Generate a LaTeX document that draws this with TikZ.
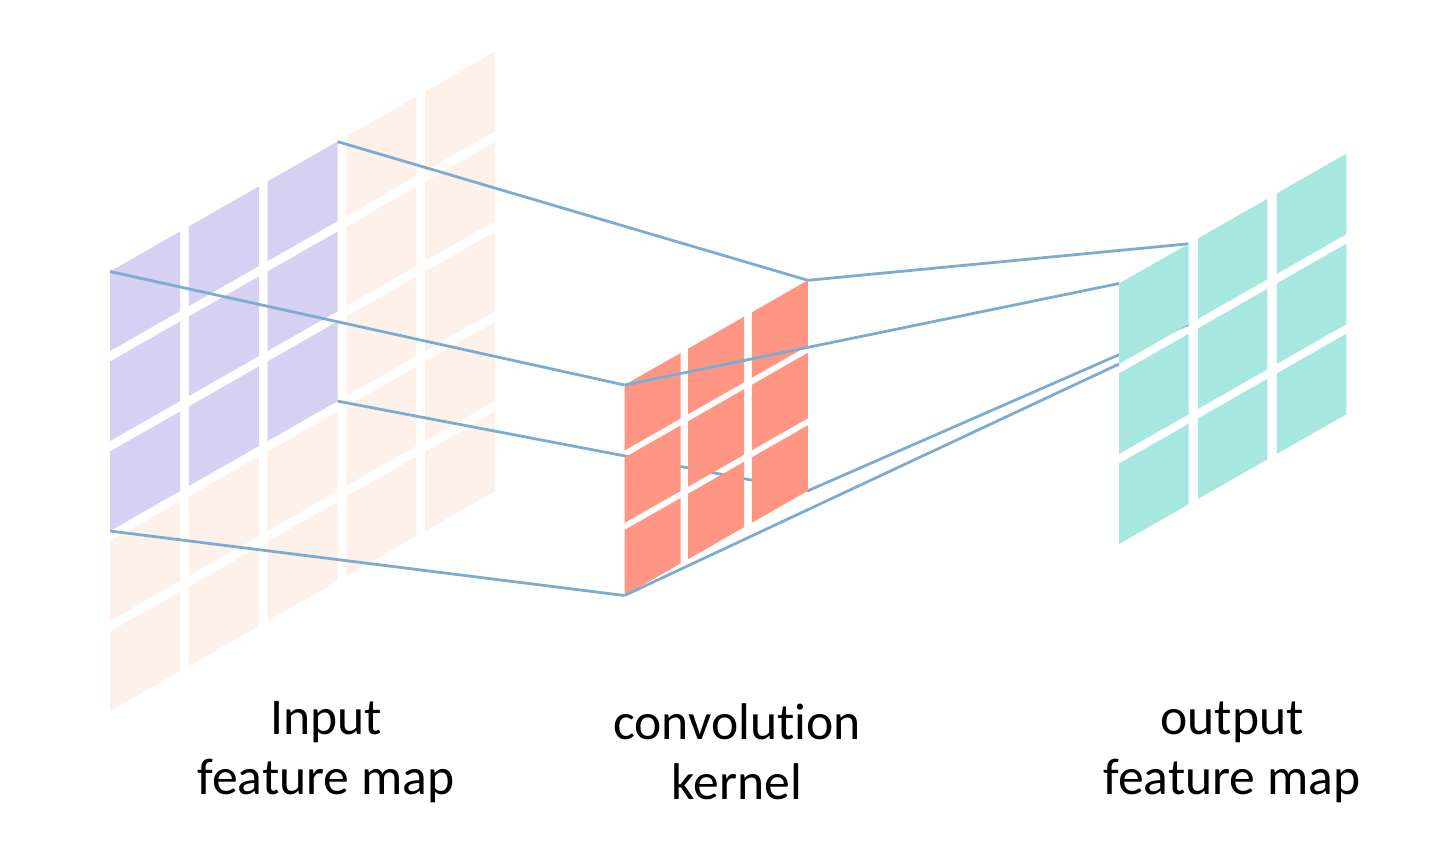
\documentclass[tikz,border=0pt]{standalone}
\usepackage{fontspec}
\setmainfont{Carlito}
\definecolor{tanc}{RGB}{254,241,233}
\definecolor{purplec}{RGB}{214,208,243}
\definecolor{salmonc}{RGB}{254,150,131}
\definecolor{tealc}{RGB}{166,231,224}
\definecolor{linec}{RGB}{125,172,210}
\newcommand\cellgrid[9]{%
  \foreach \i in {0,...,#8}{\foreach \j in {0,...,#9}{%
    \fill[#1] ({#2+\i*#5},{#3-0.571*\i*#5+\j*#7}) -- ++(#4,{-0.571*#4}) -- ++(0,#6) -- ++({-#4},{0.571*#4}) -- cycle;
  }}}
\tikzset{
  link/.style={draw=linec,line width=1.4pt},
  lbl/.style={align=center,font=\fontsize{25.8}{30}\selectfont,inner sep=0pt}
}
\begin{document}
\begin{tikzpicture}[x=0.5pt,y=-0.5pt]
\useasboundingbox (0,0) rectangle (1454,858);
% input feature map
\cellgrid{tanc}{110}{271.5}{70}{78.75}{79.5}{90}{4}{4}
\cellgrid{purplec}{110}{271.5}{70}{78.75}{79.5}{90}{2}{2}
\coordinate (inTL) at (110,271.5);
\coordinate (inTR) at (337.5,141.6);
\coordinate (inBL) at (110,531);
\coordinate (inBR) at (337.5,401.1);
% kernel corners
\coordinate (kTL) at (624.5,385);
\coordinate (kTR) at (807.8,280.3);
\coordinate (kBL) at (624.5,595.5);
\coordinate (kBR) at (807.8,490.8);
% output cell corners
\coordinate (oTL) at (1119,283.5);
\coordinate (oTR) at (1188.5,243.8);
\coordinate (oBL) at (1119,364);
\coordinate (oBR) at (1188.5,324.3);
% links input -> kernel
\draw[link] (inTL) -- (kTL);
\draw[link] (inTR) -- (kTR);
\draw[link] (inBL) -- (kBL);
\draw[link] (inBR) -- (kBR);
% kernel
\cellgrid{salmonc}{624.5}{385}{56}{63.65}{65.5}{72.5}{2}{2}
% links kernel -> output
\draw[link] (kTL) -- (oTL);
\draw[link] (kTR) -- (oTR);
\draw[link] (kBL) -- (oBL);
\draw[link] (kBR) -- (oBR);
% output
\cellgrid{tealc}{1119}{283.5}{69.5}{78.9}{80.5}{90}{2}{2}
% labels
\node[lbl] (linput) at (326,752) {Input\\feature map};
\node[lbl] (lkernel) at (737,752) {convolut\kern0pt ion\\kernel};
\node[lbl] (loutput) at (1232,752) {output\\feature map};
\end{tikzpicture}
\end{document}
